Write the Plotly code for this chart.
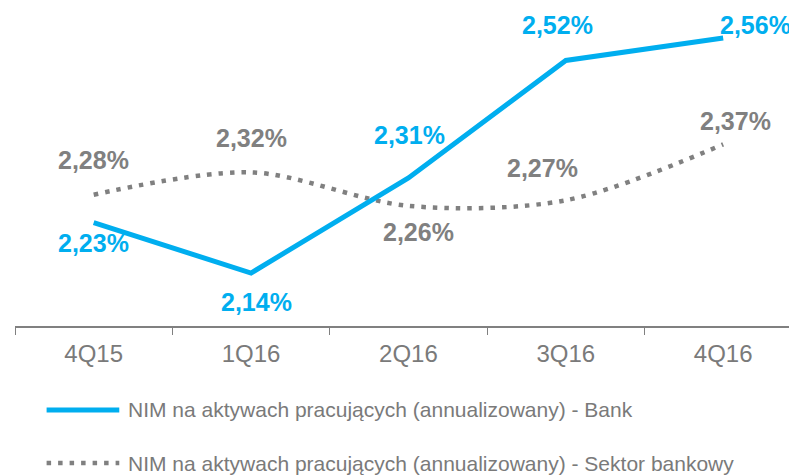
import plotly.graph_objects as go

quarters = ["4Q15", "1Q16", "2Q16", "3Q16", "4Q16"]
bank = [2.23, 2.14, 2.31, 2.52, 2.56]
sector = [2.28, 2.32, 2.26, 2.27, 2.37]
bank_name = "NIM na aktywach pracujących (annualizowany) - Bank"
sector_name = "NIM na aktywach pracujących (annualizowany) - Sektor bankowy"

BLUE = "#00AEEF"
GREY = "#808080"
TXT = "#7a7a7a"
FONT = "Liberation Sans, Arial, sans-serif"

# label offsets (px) per point, tuned to the reference
bank_off = [(0, -20), (5, -29), (1, 43), (-8, 35), (32, 13)]
sector_off = [(0, 35), (0, 34), (10, -26), (-23, 32), (12, 23)]


def fmt(v):
    return f"{v:.2f}%".replace(".", ",")


fig = go.Figure()
fig.add_trace(go.Scatter(x=quarters, y=sector, mode="lines", name=sector_name,
                         line=dict(color=GREY, width=4.5, dash="4.5px,7px",
                                   shape="spline", smoothing=0.9)))
fig.add_trace(go.Scatter(x=quarters, y=bank, mode="lines", name=bank_name,
                         line=dict(color=BLUE, width=5)))

ann = []
for q, v, (dx, dy) in zip(quarters, bank, bank_off):
    ann.append(dict(x=q, y=v, text=fmt(v), showarrow=False, xshift=dx, yshift=dy,
                    font=dict(size=25, color=BLUE, family=FONT, weight="bold")))
for q, v, (dx, dy) in zip(quarters, sector, sector_off):
    ann.append(dict(x=q, y=v, text=fmt(v), showarrow=False, xshift=dx, yshift=dy,
                    font=dict(size=25, color=GREY, family=FONT, weight="bold")))

# custom legend below the axis (page body adds an 8px offset)
shapes = []
for name, yy, style in [(bank_name, -0.264, dict(color=BLUE, width=5)),
                        (sector_name, -0.431, dict(color=GREY, width=4.5, dash="4.5px,7px"))]:
    shapes.append(dict(type="line", xref="paper", yref="paper", x0=0.04, x1=0.132,
                       y0=yy, y1=yy, line=style))
    ann.append(dict(xref="paper", yref="paper", x=0.140, y=yy, text=name, showarrow=False,
                    xanchor="left", yanchor="middle",
                    font=dict(size=21, color=TXT, family=FONT)))

fig.update_layout(
    width=797, height=475,
    margin=dict(l=7, r=0, t=0, b=157),
    plot_bgcolor="white", paper_bgcolor="white",
    showlegend=False,
    annotations=ann, shapes=shapes,
    xaxis=dict(type="category", range=[-0.5, 4.52], tickson="boundaries",
               ticks="outside", ticklen=7, tickcolor=GREY, showline=True,
               linecolor=GREY, linewidth=1.5, showgrid=False, zeroline=False,
               tickfont=dict(size=24, color=TXT, family=FONT), ticklabelstandoff=5),
    yaxis=dict(range=[2.0453, 2.6137], visible=False, showgrid=False, zeroline=False),
)

fig.write_html("out.html")
